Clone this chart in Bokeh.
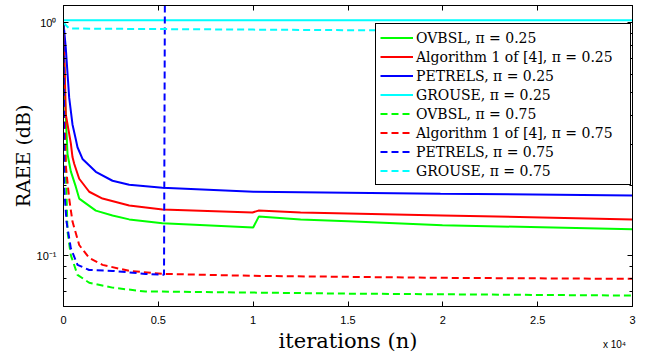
from bokeh.plotting import figure
from bokeh.models import Range1d, FixedTicker, LinearAxis, LogAxis, Legend, LegendItem
from bokeh.embed import file_html
from bokeh.resources import INLINE

# ---------------- data ----------------
x_tick_values = [0, 5000, 10000, 15000, 20000, 25000, 30000]
x_tick_labels = ["0", "0.5", "1", "1.5", "2", "2.5", "3"]
y_tick_values = [0.1, 1.0]
y_tick_labels = ["10\u207b\u00b9", "10\u2070"]
y_minor_ticks = [0.07, 0.08, 0.09, 0.2, 0.3, 0.4, 0.5, 0.6, 0.7, 0.8, 0.9]

ovbsl_025_n = [0, 79, 211, 385, 648, 828, 1703, 2583, 3464, 5219, 10000, 10296, 12500, 15000, 19980, 30000]
ovbsl_025_v = [1.0, 0.468, 0.273, 0.23, 0.1977, 0.1757, 0.156, 0.1487, 0.143, 0.1375, 0.132, 0.147, 0.143, 0.1403, 0.135, 0.1297]

alg1_025_n = [0, 121, 385, 474, 564, 828, 1355, 2056, 3464, 5219, 9964, 10280, 12500, 19980, 30000]
alg1_025_v = [1.0, 0.404, 0.304, 0.265, 0.248, 0.2138, 0.188, 0.1757, 0.164, 0.1578, 0.153, 0.156, 0.153, 0.1487, 0.143]

petrels_025_n = [0, 121, 300, 474, 648, 738, 1002, 1265, 1703, 2583, 3464, 5219, 10017, 19875, 30000]
petrels_025_v = [1.0, 0.779, 0.477, 0.366, 0.316, 0.292, 0.260, 0.248, 0.229, 0.2096, 0.2015, 0.1955, 0.188, 0.1845, 0.181]

grouse_025_n = [0, 10000, 20000, 30000]
grouse_025_v = [1.025, 1.025, 1.025, 1.025]

ovbsl_075_n = [0, 53, 211, 385, 738, 1355, 2583, 4322, 5219, 15000, 30000]
ovbsl_075_v = [1.0, 0.385, 0.127, 0.1004, 0.0826, 0.0764, 0.0728, 0.070, 0.070, 0.0686, 0.0673]

alg1_075_n = [0, 53, 121, 300, 474, 828, 1355, 2056, 3464, 5219, 10017, 19980, 30000]
alg1_075_v = [1.0, 0.468, 0.243, 0.1757, 0.140, 0.111, 0.0976, 0.0912, 0.0859, 0.0834, 0.0818, 0.0802, 0.0794]

petrels_075_n = [0, 26, 37, 158, 385, 738, 1355, 2583, 4322, 5300, 5380, 30000]
petrels_075_v = [1.0, 0.468, 0.194, 0.140, 0.1076, 0.0912, 0.0867, 0.0859, 0.0834, 0.0826, 10.0, 10.0]

grouse_075_n = [0, 300, 10000, 20000, 30000]
grouse_075_v = [1.0, 0.945, 0.935, 0.925, 0.918]

series = [
    ("OVBSL, \u03c0 = 0.25", ovbsl_025_n, ovbsl_025_v, "#00ff00", "solid"),
    ("Algorithm 1 of [4], \u03c0 = 0.25", alg1_025_n, alg1_025_v, "#ff0000", "solid"),
    ("PETRELS, \u03c0 = 0.25", petrels_025_n, petrels_025_v, "#0000ff", "solid"),
    ("GROUSE, \u03c0 = 0.25", grouse_025_n, grouse_025_v, "#00ffff", "solid"),
    ("OVBSL, \u03c0 = 0.75", ovbsl_075_n, ovbsl_075_v, "#00ff00", "7 4"),
    ("Algorithm 1 of [4], \u03c0 = 0.75", alg1_075_n, alg1_075_v, "#ff0000", "7 4"),
    ("PETRELS, \u03c0 = 0.75", petrels_075_n, petrels_075_v, "#0000ff", "7 4"),
    ("GROUSE, \u03c0 = 0.75", grouse_075_n, grouse_075_v, "#00ffff", "7 4"),
]

x_title = "iterations (n)"
y_title = "RAEE (dB)"
x_scale_note = "x 10\u2074"

# ---------------- figure ----------------
p = figure(width=649, height=355,
           x_range=Range1d(0, 30000), y_range=Range1d(0.0604, 1.187),
           y_axis_type="log", output_backend="svg", toolbar_location=None,
           min_border_left=63, min_border_right=17, min_border_top=5, min_border_bottom=46)
p.xgrid.visible = False
p.ygrid.visible = False
p.outline_line_color = "black"
p.outline_line_width = 1
p.outline_line_alpha = 1
p.background_fill_color = "white"
p.border_fill_color = "white"

tick_font = "Liberation Sans"
title_font = "DejaVu Serif"

xax = p.xaxis[0]
xax.ticker = FixedTicker(ticks=x_tick_values)
xax.major_label_overrides = dict(zip(x_tick_values, x_tick_labels))
yax = p.yaxis[0]
yax.ticker = FixedTicker(ticks=y_tick_values, minor_ticks=y_minor_ticks)
yax.major_label_overrides = dict(zip(y_tick_values, y_tick_labels))

for ax in (xax, yax):
    ax.major_tick_in = 5
    ax.major_tick_out = 0
    ax.minor_tick_in = 3
    ax.minor_tick_out = 0
    ax.axis_line_color = "black"
    ax.major_tick_line_color = "black"
    ax.minor_tick_line_color = "black"
    ax.major_label_text_font = tick_font
    ax.major_label_text_font_size = "11px"
    ax.major_label_text_color = "black"
xax.minor_tick_line_color = None
xax.major_label_standoff = 9
yax.major_label_standoff = 7

yax.axis_label = y_title
yax.axis_label_text_font = title_font
yax.axis_label_text_font_size = "19px"
yax.axis_label_text_font_style = "normal"
yax.axis_label_text_color = "black"
yax.axis_label_standoff = 0

# second bottom axis: carries the "x 10^4" note and the x title
note_pos = 29050
xax2 = LinearAxis(ticker=FixedTicker(ticks=[note_pos]),
                  major_label_overrides={note_pos: x_scale_note})
xax2.major_tick_in = 0
xax2.major_tick_out = 0
xax2.minor_tick_line_color = None
xax2.major_tick_line_color = None
xax2.axis_line_color = None
xax2.major_label_text_font = tick_font
xax2.major_label_text_font_size = "10px"
xax2.major_label_text_color = "black"
xax2.major_label_standoff = 12
xax2.axis_label = x_title
xax2.axis_label_text_font = title_font
xax2.axis_label_text_font_size = "21px"
xax2.axis_label_text_font_style = "normal"
xax2.axis_label_text_color = "black"
xax2.axis_label_standoff = -24
p.add_layout(xax2, "below")

top = LinearAxis(ticker=FixedTicker(ticks=x_tick_values),
                 major_label_overrides={v: "" for v in x_tick_values})
right = LogAxis(ticker=FixedTicker(ticks=y_tick_values, minor_ticks=y_minor_ticks),
                major_label_overrides={v: "" for v in y_tick_values})
for ax in (top, right):
    ax.major_tick_in = 5
    ax.major_tick_out = 0
    ax.minor_tick_in = 3
    ax.minor_tick_out = 0
    ax.major_label_text_font_size = "0px"
    ax.major_label_standoff = 0
    ax.axis_line_color = "black"
top.minor_tick_line_color = None
p.add_layout(top, "above")
p.add_layout(right, "right")

items = []
for name, xs, ys, color, dash in series:
    r = p.line(xs, ys, line_color=color, line_width=2, line_dash=dash)
    items.append(LegendItem(label=name, renderers=[r]))

legend = Legend(items=items, location=(312, 121),
                label_text_font=title_font, label_text_font_size="14px",
                label_text_color="black",
                glyph_width=33, glyph_height=19, label_height=19, label_width=210,
                spacing=0, padding=4, label_standoff=3, margin=0,
                border_line_color="black", border_line_width=1, border_line_alpha=1,
                background_fill_color="white", background_fill_alpha=1)
p.add_layout(legend)

open("out.html", "w").write(file_html(p, INLINE))
